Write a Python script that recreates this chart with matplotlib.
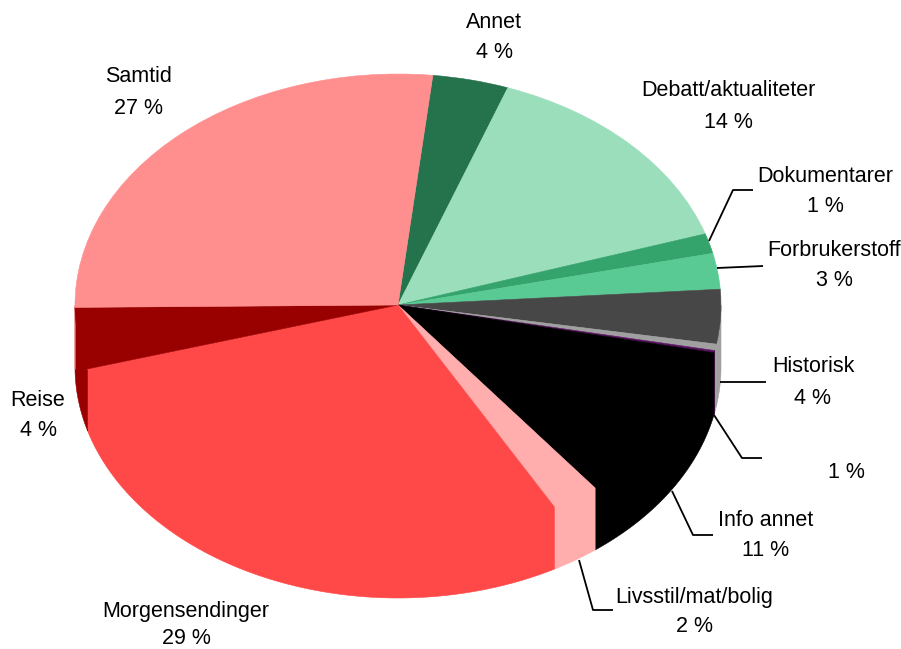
import numpy as np
import matplotlib
matplotlib.use("Agg")
import matplotlib.pyplot as plt
from matplotlib.patches import Polygon

# ---------------- data ----------------
categories = ["Annet", "Debatt/aktualiteter", "Dokumentarer", "Forbrukerstoff",
              "Historisk", "", "", "Info annet", "Livsstil/mat/bolig",
              "Morgensendinger", "Reise", "Samtid"]
values = [3.8, 14.5, 1.4, 2.5, 3.8, 0.45, 0.15, 11.25, 2.4, 28.6, 4.3, 26.9]
pct_labels = ["4 %", "14 %", "1 %", "3 %", "4 %", "1 %", "", "11 %", "2 %",
              "29 %", "4 %", "27 %"]

# ---------------- style ----------------
colors = ["#24734C", "#9ADEBC", "#34A46C", "#5ACA94", "#474747", "#A0A0A0",
          "#5A1060", "#000000", "#FFADAD", "#FF4848", "#990000", "#FF8F8F"]
side_colors = ["#24734C", "#9ADEBC", "#34A46C", "#5ACA94", "#A0A0A0", "#A0A0A0",
               "#5A1060", "#000000", "#FFADAD", "#FF4848", "#990000", "#FF8F8F"]

W, H = 901, 649
CX, CY, RX, RY, DEPTH = 398, 305, 323, 231, 62
START = 83.8
FONT = "Liberation Sans"
FS = 15.5

# label positions (pixels): name line, pct line
label_pos = [
    (494, 23, 53),    # Annet
    (728, 91, 122),   # Debatt
    (825, 177, 207),  # Dokumentarer
    (834, 250, 281),  # Forbruker
    (813, 367, 398),  # Historisk
    (846, 443, 473),  # 1 %
    None,
    (766, 520, 550),  # Info annet
    (694, 597, 627),  # Livsstil
    (186, 611, 639),  # Morgen
    (38, 401, 430),   # Reise
    (139, 77, 108),   # Samtid
]
leaders = [
    [(709, 241), (733, 190), (753, 190)],
    [(717, 268), (763, 266)],
    [(720, 382), (766, 382)],
    [(714, 415), (742, 458), (762, 458)],
    [(672, 491), (693, 535), (713, 535)],
    [(579, 560), (593, 610), (613, 610)],
]


def to_data(x, y):
    return (x - CX) / RX, (CY - y) / RY


fig = plt.figure(figsize=(W / 100, H / 100), dpi=100)
ax = fig.add_axes([0, 0, 1, 1])
wedges, _ = ax.pie(values, colors=colors, startangle=START, counterclock=False,
                   radius=1, center=(0, 0),
                   wedgeprops=dict(linewidth=0.4, antialiased=True))
for w, c in zip(wedges, colors):
    w.set_edgecolor(c)
    w.set_zorder(3)
ax.set_aspect("auto")
ax.set_xlim(-CX / RX, (W - CX) / RX)
ax.set_ylim(-(H - CY) / RY, CY / RY)
ax.axis("off")

# side walls (front half only), top edge tucked slightly under the top face
d = DEPTH / RY
for w, sc in zip(wedges, side_colors):
    a1, a2 = max(w.theta1, -180), min(w.theta2, 0)
    if a2 <= a1:
        continue
    t = np.radians(np.linspace(a1, a2, 200))
    xs, ys = np.cos(t), np.sin(t)
    top = np.column_stack([xs, ys + 0.012 * np.clip(-ys * 20, 0, 1)])
    pts = np.concatenate([top, np.column_stack([xs[::-1], ys[::-1] - d])])
    ax.add_patch(Polygon(pts, closed=True, facecolor=sc, edgecolor=sc,
                         lw=0.4, zorder=2))

# labels
for name, pct, pos in zip(categories, pct_labels, label_pos):
    if pos is None:
        continue
    x, y1, y2 = pos
    if name:
        fig.text(x / W, 1 - y1 / H, name, ha="center", va="center",
                 fontsize=FS, family=FONT, color="black")
    if pct:
        fig.text(x / W, 1 - y2 / H, pct, ha="center", va="center",
                 fontsize=FS, family=FONT, color="black")

for pts in leaders:
    xs, ys = zip(*[to_data(x, y) for x, y in pts])
    ax.plot(xs, ys, color="black", lw=1.3, zorder=5, solid_capstyle="butt")

fig.savefig("out.png", dpi=100)
